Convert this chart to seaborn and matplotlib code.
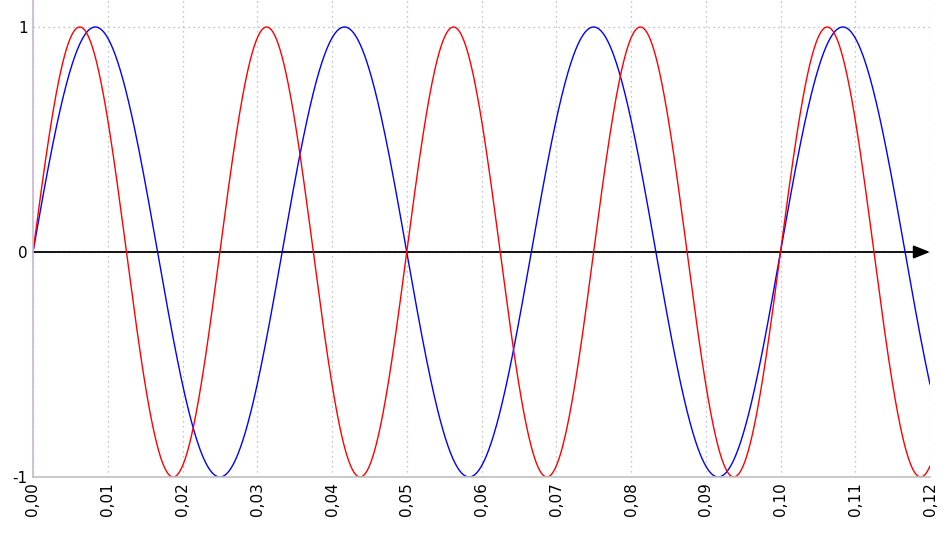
import numpy as np
import pandas as pd
import matplotlib
matplotlib.use("Agg")
import matplotlib.pyplot as plt
import seaborn as sns

# Data: two unit-amplitude sinusoids
series_names = ["blue", "red"]
frequencies_hz = [30.0, 40.0]        # blue period ~0.0333 s, red period 0.025 s
amplitudes = [1.0, 1.0]
t_start, t_end, n_samples = 0.0, 0.12, 2401
x_tick_values = [0.00, 0.01, 0.02, 0.03, 0.04, 0.05, 0.06, 0.07, 0.08, 0.09, 0.10, 0.11, 0.12]
x_tick_labels = ["0,00", "0,01", "0,02", "0,03", "0,04", "0,05", "0,06", "0,07", "0,08", "0,09", "0,10", "0,11", "0,12"]
y_tick_values = [-1, 0, 1]
y_tick_labels = ["-1", "0", "1"]

t = np.linspace(t_start, t_end, n_samples)
frames = []
for name, f, a in zip(series_names, frequencies_hz, amplitudes):
    frames.append(pd.DataFrame({"t": t, "y": a * np.sin(2 * np.pi * f * t), "s": name}))
df = pd.concat(frames, ignore_index=True)

sns.set_style("white")
plt.rcParams["font.family"] = ["DejaVu Sans"]

fig = plt.figure(figsize=(9.5, 5.33), dpi=100)
ax = fig.add_axes([33 / 950, 1 - 477 / 533, (930 - 33) / 950, 477 / 533])

sns.lineplot(data=df, x="t", y="y", hue="s", palette={"blue": "#0000ff", "red": "#ff0000"},
             hue_order=["blue", "red"], linewidth=1.0, legend=False, ax=ax, estimator=None, sort=False)

ax.set_xlim(0.0, 0.12)
ax.set_ylim(-1.0, 1.12)
ax.set_xticks(x_tick_values)
ax.set_xticklabels(x_tick_labels, rotation=90, fontsize=11, color="black")
ax.set_yticks(y_tick_values)
ax.set_yticklabels(y_tick_labels, fontsize=11, color="black")
ax.set_xlabel("")
ax.set_ylabel("")
ax.tick_params(axis="both", length=0, pad=4)

ax.grid(True, linestyle=(0, (1, 3)), color="#b0b0b0", linewidth=0.9)
ax.set_axisbelow(True)

for side in ["top", "right"]:
    ax.spines[side].set_visible(False)
ax.spines["left"].set_color("#c8b8d0")
ax.spines["left"].set_linewidth(1.2)
ax.spines["bottom"].set_color("#c0c0c0")
ax.spines["bottom"].set_linewidth(1.2)

# x axis arrow at y = 0
ax.annotate("", xy=(0.12, 0), xytext=(0.0, 0),
            arrowprops=dict(arrowstyle="-|>,head_length=1.0,head_width=0.4", color="black",
                            linewidth=1.3, shrinkA=0, shrinkB=0), zorder=1)

fig.savefig("out.png", dpi=100)
